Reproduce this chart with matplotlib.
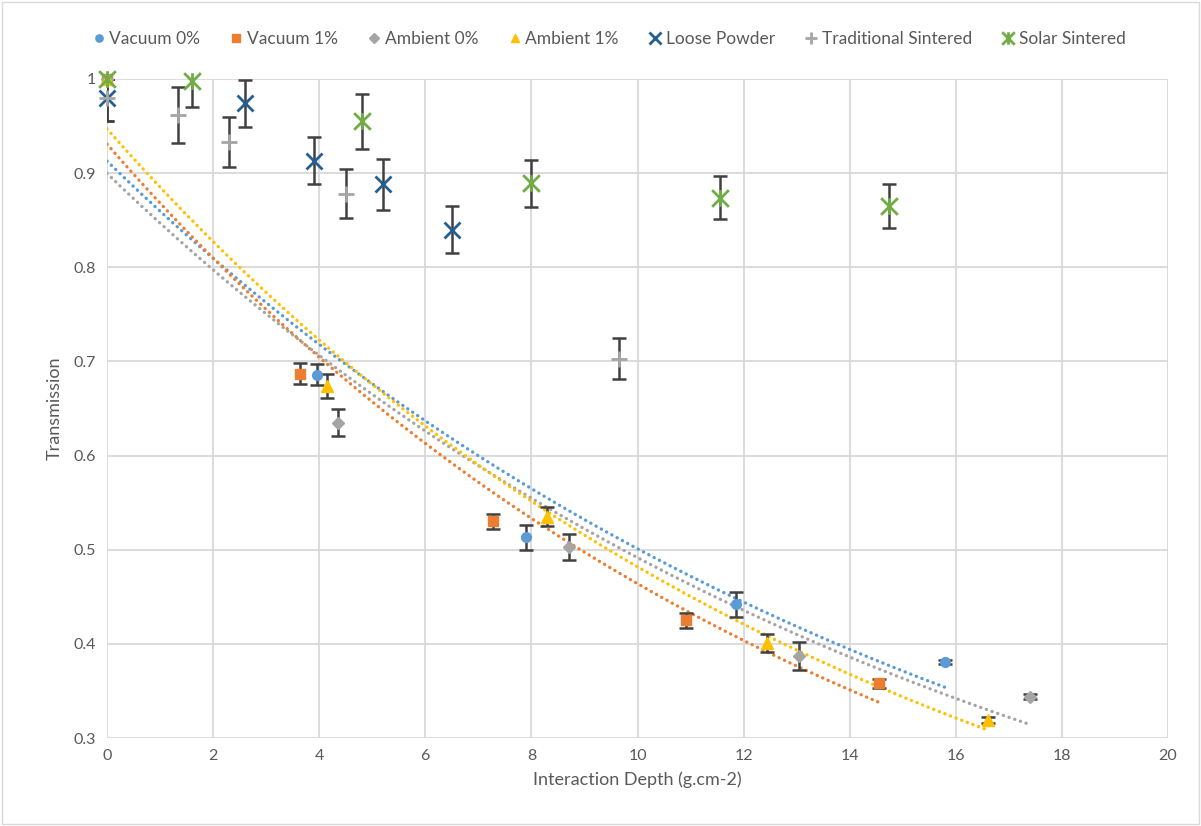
import numpy as np
import matplotlib
matplotlib.use("Agg")
import matplotlib.pyplot as plt
from matplotlib.patches import Rectangle
from matplotlib.path import Path

# ---- data ----
vac0_x = [0, 3.95, 7.9, 11.85, 15.8]
vac0_y = [1.0, 0.686, 0.513, 0.442, 0.381]
vac0_e = [0.0, 0.011, 0.013, 0.013, 0.002]

vac1_x = [0, 3.64, 7.28, 10.92, 14.56]
vac1_y = [1.0, 0.687, 0.530, 0.425, 0.358]
vac1_e = [0.0, 0.011, 0.008, 0.008, 0.005]

amb0_x = [0, 4.35, 8.7, 13.05, 17.4]
amb0_y = [1.0, 0.635, 0.503, 0.387, 0.344]
amb0_e = [0.0, 0.014, 0.014, 0.015, 0.003]

amb1_x = [0, 4.15, 8.3, 12.45, 16.6]
amb1_y = [1.0, 0.674, 0.535, 0.401, 0.319]
amb1_e = [0.0, 0.013, 0.010, 0.010, 0.003]

loose_x = [0, 2.6, 3.9, 5.2, 6.5]
loose_y = [0.98, 0.974, 0.913, 0.888, 0.840]
loose_e = [0.025, 0.025, 0.025, 0.027, 0.025]

trad_x = [0, 1.33, 2.3, 4.5, 9.66]
trad_y = [0.98, 0.962, 0.933, 0.878, 0.703]
trad_e = [0.025, 0.030, 0.027, 0.026, 0.022]

solar_x = [0, 1.6, 4.8, 8.0, 11.55, 14.75]
solar_y = [1.0, 0.998, 0.955, 0.889, 0.874, 0.865]
solar_e = [0.0, 0.028, 0.029, 0.025, 0.023, 0.023]

x_ticks = [0, 2, 4, 6, 8, 10, 12, 14, 16, 18, 20]
y_ticks = [0.3, 0.4, 0.5, 0.6, 0.7, 0.8, 0.9, 1.0]
y_tick_labels = ["0.3", "0.4", "0.5", "0.6", "0.7", "0.8", "0.9", "1"]

plt.rcParams['font.family'] = ['Lato', 'DejaVu Sans']
text_col = '#595959'
grid_col = '#d9d9d9'
err_col = '#404040'

# Excel-style "star" marker: an X with a vertical bar
star_marker = Path([(-1, -1), (1, 1), (-1, 1), (1, -1), (0, -1), (0, 1)],
                   [Path.MOVETO, Path.LINETO, Path.MOVETO, Path.LINETO, Path.MOVETO, Path.LINETO])

fig = plt.figure(figsize=(12.01, 8.26), dpi=100)
fig.patches.append(Rectangle((0.002, 0.002), 0.996, 0.996, transform=fig.transFigure,
                             fill=False, edgecolor='#d9d9d9', linewidth=1))
ax = fig.add_axes([107/1201, 1 - 738/826, (1168-107)/1201, (738-79)/826])

ax.set_xlim(0, 20)
ax.set_ylim(0.3, 1.0)
ax.set_xticks(x_ticks)
ax.set_yticks(y_ticks)
ax.set_yticklabels(y_tick_labels)
ax.grid(True, color=grid_col, linewidth=1.3, zorder=0)
for s in ax.spines.values():
    s.set_visible(False)
ax.tick_params(length=0, labelsize=11.5, labelcolor=text_col, pad=8)
ax.set_axisbelow(True)
ax.set_xlabel("Interaction Depth (g.cm-2)", fontsize=13, color=text_col, labelpad=6)
ax.set_ylabel("Transmission", fontsize=13, color=text_col, labelpad=8)

series = [
    ("Vacuum 0%", vac0_x, vac0_y, vac0_e, 'o', '#5B9BD5', 7, True),
    ("Vacuum 1%", vac1_x, vac1_y, vac1_e, 's', '#ED7D31', 7, True),
    ("Ambient 0%", amb0_x, amb0_y, amb0_e, 'D', '#A5A5A5', 6.5, True),
    ("Ambient 1%", amb1_x, amb1_y, amb1_e, '^', '#FFC000', 8, True),
    ("Loose Powder", loose_x, loose_y, loose_e, 'x', '#255E91', 12, False),
    ("Traditional Sintered", trad_x, trad_y, trad_e, '+', '#A5A5A5', 12, False),
    ("Solar Sintered", solar_x, solar_y, solar_e, star_marker, '#70AD47', 12, False),
]

# trendlines (exponential fits)
for name, xs, ys, es, mk, col, ms, trend in series:
    if trend:
        xa = np.array(xs); ya = np.array(ys)
        b, lna = np.polyfit(xa, np.log(ya), 1)
        xx = np.linspace(0, xa.max(), 300)
        ax.plot(xx, np.exp(lna) * np.exp(b * xx), color=col, linestyle=(0, (0.05, 1.75)),
                linewidth=2.4, dash_capstyle='round', solid_capstyle='round', zorder=2)

handles = []
for name, xs, ys, es, mk, col, ms, trend in series:
    ax.errorbar(xs, ys, yerr=es, fmt='none', ecolor=err_col, elinewidth=1.8,
                capsize=5, capthick=1.8, zorder=3, clip_on=True)
    thin = isinstance(mk, str) and mk in ('o', 's', 'D', '^')
    h, = ax.plot(xs, ys, linestyle='none', marker=mk, color=col, markersize=ms,
                 markeredgewidth=1 if thin else 2,
                 label=name, zorder=4, clip_on=False)
    handles.append(h)

leg = fig.legend(handles=handles, loc='center', bbox_to_anchor=(0.506, 1 - 39/826),
                 ncol=7, frameon=False, fontsize=12.5, handletextpad=0.1,
                 columnspacing=1.6, markerscale=0.75, handlelength=1.0)
for t in leg.get_texts():
    t.set_color(text_col)

fig.savefig("out.png", dpi=100)
